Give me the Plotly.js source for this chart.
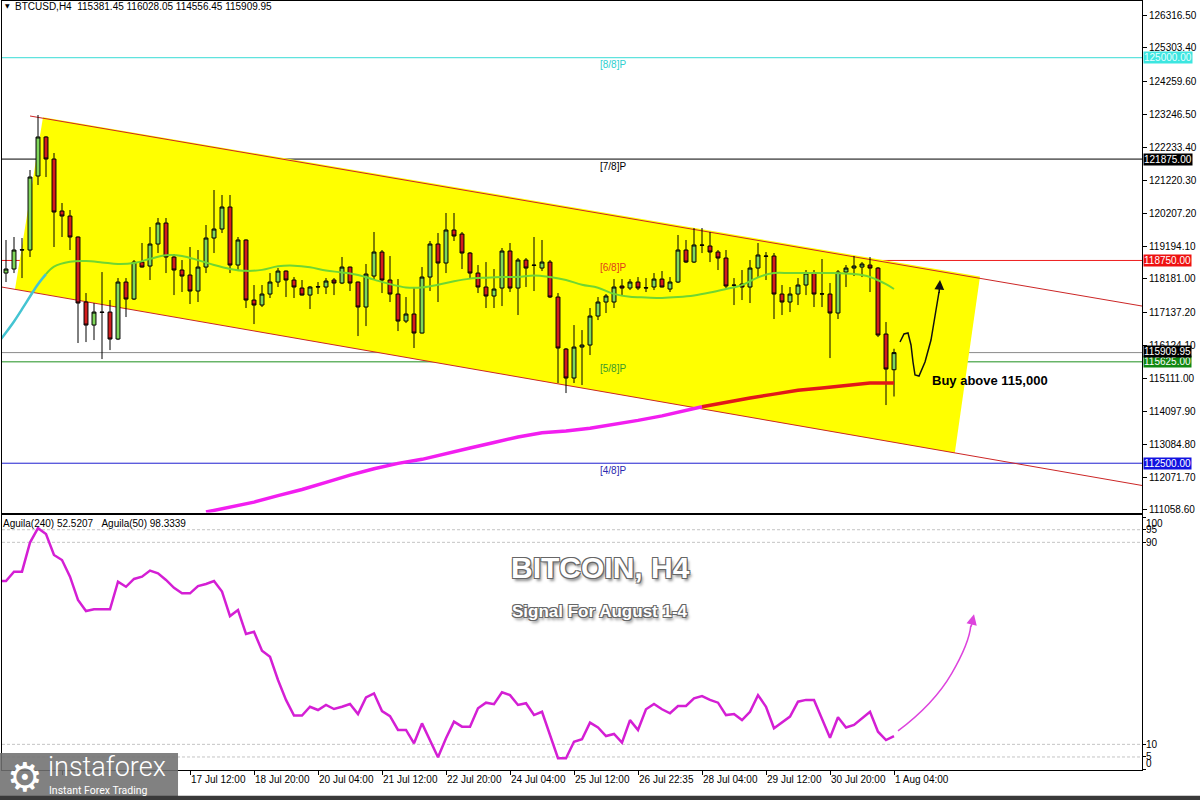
<!DOCTYPE html>
<html><head><meta charset="utf-8">
<script src="https://cdn.plot.ly/plotly-3.0.1.min.js"></script>
<style>html,body{margin:0;padding:0;background:#fff}#chart{width:1200px;height:800px}</style>
</head><body><div id="chart"></div>
<script>
// ---------- DATA (BTCUSD H4) ----------
const openP = [118362,118486,119072,119072,121353,122556,121877,120274,120120,119473,
117469,116759,117160,117160,116328,118085,117561,118701,118578,119257,
119904,118856,118455,118301,117808,118547,119442,119719,120398,118609,
119381,117530,117376,117715,118085,118424,118147,117900,117684,117931,
117931,118147,118054,118547,118085,117315,118270,119010,118147,117715,
116882,117099,116513,118239,119257,118671,119689,119565,118979,118362,
117931,117654,117900,119041,117900,118763,118609,118516,118701,117623,
116020,115126,116081,116143,117037,117469,117469,117962,117900,118085,
117900,117931,118177,117869,118085,119072,118701,119227,119196,119010,
118825,117993,118023,117931,118516,118887,118887,117715,117469,117715,
117993,118362,117715,117715,117130,118393,118516,118547,118609,118516,
116482,115381.45];
const highP = [119381,119473,119442,121538,123234,122580,122062,120521,120305,119490,
117746,117438,118393,117530,118208,118208,118763,119288,119781,120059,
120059,118948,118763,119165,119072,119843,120922,120768,120768,119473,
119400,117993,117993,118362,118516,118440,118239,118147,117962,118085,
118208,118208,118856,118560,118100,118640,119627,119072,118887,118177,
117623,117900,118547,119350,119596,120213,120213,119627,119010,118609,
118701,118486,119134,119288,118825,118825,119473,119381,118763,117746,
116051,116759,116605,117284,117623,117715,118177,118177,118177,118239,
118208,118362,118424,118239,119535,119381,119750,119750,119627,119072,
119072,118208,118455,118763,119288,119010,118979,117993,117931,118208,
118455,118455,118794,118054,118455,118609,118887,118701,118856,118547,
116852,116028.05];
const lowP = [118085,118362,118208,118856,121076,121322,119165,119473,119072,116205,
116235,116297,115711,115988,116297,117006,117530,118530,118147,118979,
118362,117684,117777,117407,117469,118362,118979,119596,118362,118424,
117284,116790,117315,117592,117931,117623,117592,117670,117253,117715,
117715,117684,118023,117808,116420,116728,118147,117746,117469,116574,
116821,116051,116500,117808,117469,118362,119350,118486,118177,117746,
117284,117284,117345,117777,117068,117931,117808,118424,117592,114972,
114663,114972,114910,115835,116913,117130,117284,117684,117838,117838,
117777,117838,117920,117777,118054,118671,118671,118979,118701,118455,
117900,117376,117530,117438,118208,118147,116945,117068,117160,117376,
117684,117315,117315,115742,116945,117931,118270,118239,117777,116389,
114293,114556.45];
const closeP = [118486,119072,119080,121322,122556,121877,120243,120120,119473,117438,
116759,117160,117150,116328,118085,117561,118701,118547,119257,119904,
118856,118455,118270,117808,118547,119442,119719,120398,118609,119381,
117530,117376,117715,118085,118424,118147,117931,117684,117931,117940,
118116,118054,118547,118054,117315,118331,119010,118147,117715,116882,
117099,116513,118239,119257,118671,119689,119504,118979,118362,117931,
117654,117869,119041,117900,118763,118516,118600,118701,117623,116051,
115126,116081,116143,117037,117469,117654,117931,117900,118085,117900,
117910,118177,117931,118085,119072,118701,119227,119220,119010,118825,
117962,117985,117931,118516,118918,118880,117715,117469,117715,117993,
118362,117715,117720,117130,118393,118516,118578,118640,118516,116451,
115403,115909.95];

// Aguila(50) – first segment drawn cyan, rest green (bar index, price)
const maFastCyanIdx = [-1, 0, 1, 2, 3, 4, 5];
const maFastCyanVal = [116210, 116530, 116870, 117250, 117640, 118020, 118330];
const maFastIdx = [5,6,8,10,12,14,16,18,20,22,24,26,28,30,32,34,36,38,40,42,44,46,48,50,52,54,56,58,60,62,64,66,68,70,72,74,76,78,80,82,84,86,88,90,92,94,96,98,100,103,106,108,110,111];
const maFastVal = [118330,118560,118710,118730,118690,118640,118670,118800,118910,118890,118760,118610,118490,118430,118460,118570,118590,118540,118440,118380,118300,118160,118020,117920,117920,118000,118110,118190,118220,118240,118240,118290,118240,118150,118000,117910,117720,117630,117610,117595,117620,117670,117760,117870,117990,118230,118362,118362,118362,118362,118330,118240,118020,117870];
// Aguila(240) – magenta, then red
const maSlowIdx = [25,28,31,34,37,40,43,46,49,52,55,58,61,64,67,70,73,76,79,82,85,87];
const maSlowVal = [110995,111150,111300,111500,111690,111910,112135,112330,112495,112620,112780,112967,113140,113310,113440,113490,113580,113690,113820,113960,114130,114240];
const maSlowRedIdx = [87,90,93,96,99,102,105,108,111];
const maSlowRedVal = [114240,114380,114510,114630,114750,114820,114900,114971,114975];

// Lower oscillator, starting at bar index -1
const aguilaStart = -1;
const aguila = [74.7,
74.7,78.4,78.4,89.9,95.6,93.3,85.0,83.0,76.4,67.2,
62.8,63.5,63.5,63.5,74.4,72.4,75.5,76.4,78.8,77.7,
75.1,72.0,69.8,69.8,72.7,73.5,74.7,70.5,60.8,63.2,
53.7,54.6,47.1,44.7,35.5,27.6,21.4,21.4,24.9,23.6,
25.6,24.0,24.9,26.0,22.0,28.6,30.2,23.2,21.2,15.7,
15.7,10.4,18.3,11.7,4.9,12.4,19.0,17.0,17.0,24.3,
26.5,25.9,30.6,29.5,25.6,26.3,21.6,22.9,13.7,4.5,
4.5,11.0,12.0,18.6,16.7,13.3,14.1,10.7,19.6,15.7,
23.9,26.0,23.9,22.3,25.2,25.2,28.2,29.1,27.6,26.5,
21.6,22.0,19.6,22.9,29.5,24.9,16.4,18.6,21.0,26.9,
27.6,27.6,20.3,12.6,20.7,16.7,17.7,20.3,22.9,15.0,
11.7,13.3];

// Axis ticks (the two leftmost time labels are hidden under the logo in the reference)
const priceTicks = [126316.50,125303.40,124259.60,123246.50,122233.40,121220.30,120207.20,119194.10,118181.00,117137.20,116124.10,115111.00,114097.90,113084.80,112071.70,111058.60];
const oscTicks = [100, 95, 90, 10, 5, 0];
const oscLabelNudge = [-6, 0, 0, 0, 0, 6];
const oscGrid = [95, 90, 10, 5];
const timeTickIdx = [7,15,23,31,39,47,55,63,71,79,87,95,103,111];
const timeTickText = ['','','17 Jul 12:00','18 Jul 20:00','20 Jul 04:00','21 Jul 12:00','22 Jul 20:00','24 Jul 04:00','25 Jul 12:00','26 Jul 22:35','28 Jul 04:00','29 Jul 12:00','30 Jul 20:00','1 Aug 04:00'];

// Murrey levels
const levelPrices = [125000, 121875, 118750, 115625, 112500];
const levelNames = ['[8/8]P', '[7/8]P', '[6/8]P', '[5/8]P', '[4/8]P'];
const levelLineColors = ['#38dcd6', '#000000', '#ee1c1c', '#1e8f1e', '#1f1fd0'];
const levelTextColors = ['#2fcfcf', '#000000', '#e0401a', '#3c9a2a', '#2a2ab0'];
const levelBoxColors = ['#3ce6e0', '#000000', '#ee1111', '#118811', '#1212e0'];
const levelBoxText = ['#e6ffff', '#ffffff', '#ffffff', '#ffffff', '#ffffff'];
const currentPrice = 115909.95;
const ohlcHeader = 'BTCUSD,H4\u00a0\u00a0115381.45 116028.05 114556.45 115909.95';
const oscHeader = 'Aguila(240) 52.5207\u00a0\u00a0\u00a0Aguila(50) 98.3339';

// ---------- DRAWING ----------
const barIdx = openP.map((_, k) => k);
const aguilaIdx = aguila.map((_, k) => k + aguilaStart);
const FONT = 'Liberation Sans, Arial, sans-serif';

const traces = [
  {type: 'candlestick', x: barIdx, open: openP, high: highP, low: lowP, close: closeP,
   xaxis: 'x', yaxis: 'y', whiskerwidth: 0, showlegend: false, hoverinfo: 'skip',
   increasing: {line: {color: '#000', width: 1}, fillcolor: '#7fd65a'},
   decreasing: {line: {color: '#000', width: 1}, fillcolor: '#d21d1d'}},
  {type: 'scatter', mode: 'lines', x: maFastCyanIdx, y: maFastCyanVal, xaxis: 'x', yaxis: 'y',
   line: {color: '#44c4d2', width: 2.5, shape: 'spline'}, showlegend: false, hoverinfo: 'skip'},
  {type: 'scatter', mode: 'lines', x: maFastIdx, y: maFastVal, xaxis: 'x', yaxis: 'y',
   line: {color: '#6fd632', width: 2, shape: 'spline'}, showlegend: false, hoverinfo: 'skip'},
  {type: 'scatter', mode: 'lines', x: maSlowIdx, y: maSlowVal, xaxis: 'x', yaxis: 'y',
   line: {color: '#f21ef0', width: 3.5}, showlegend: false, hoverinfo: 'skip'},
  {type: 'scatter', mode: 'lines', x: maSlowRedIdx, y: maSlowRedVal, xaxis: 'x', yaxis: 'y',
   line: {color: '#e21818', width: 3.5}, showlegend: false, hoverinfo: 'skip'},
  {type: 'scatter', mode: 'lines', x: aguilaIdx, y: aguila, xaxis: 'x2', yaxis: 'y2',
   line: {color: '#d41fd4', width: 2.5}, showlegend: false, hoverinfo: 'skip'}
];

const shapes = [];
// yellow channel
shapes.push({type: 'path', xref: 'x', yref: 'y', layer: 'below',
  path: 'M 4.625,123166 L 121.75,118254 L 118.6,112816 L 1.125,117860 Z',
  fillcolor: '#ffff00', line: {width: 0}});
// channel borders
shapes.push({type: 'line', xref: 'x', yref: 'y', layer: 'below', x0: 3, y0: 123203, x1: 142, y1: 117345,
  line: {color: '#cc2626', width: 1}});
shapes.push({type: 'line', xref: 'x', yref: 'y', layer: 'below', x0: -0.75, y0: 117940, x1: 142, y1: 111814,
  line: {color: '#cc2626', width: 1}});
// horizontal levels
levelPrices.forEach((p, k) => shapes.push({type: 'line', xref: 'paper', yref: 'y', layer: 'below',
  x0: 0, x1: 1, y0: p, y1: p, line: {color: levelLineColors[k], width: 1}}));
shapes.push({type: 'line', xref: 'paper', yref: 'y', layer: 'below', x0: 0, x1: 1,
  y0: currentPrice, y1: currentPrice, line: {color: '#8a8a8a', width: 1}});
// oscillator dashed levels
oscGrid.forEach(v => shapes.push({type: 'line', xref: 'paper', yref: 'y2', layer: 'below',
  x0: 0, x1: 1, y0: v, y1: v, line: {color: '#c4c4c4', width: 1, dash: '3px,2px'}}));
// black forecast curve
shapes.push({type: 'path', xref: 'x', yref: 'y', layer: 'above',
  path: 'M 111.75,116236 L 112.25,116483 L 112.75,116514 L 113.125,116144 L 113.375,115620 L 113.625,115219 L 114.125,115188 L 114.875,115620 L 115.625,116298 L 116.25,117223 L 116.625,117778',
  line: {color: '#111', width: 1.5}});
// magenta forecast curve (oscillator)
shapes.push({type: 'path', xref: 'x', yref: 'y2', layer: 'above',
  path: 'M 111.5,15.3 Q 116,26 118.2,38 T 120.6,57',
  line: {color: '#dd44dd', width: 1.5}});
// logo box
shapes.push({type: 'rect', xref: 'paper', yref: 'paper', layer: 'above',
  x0: -0.002, x1: 0.1544, y0: -0.04, y1: 0.0221, fillcolor: 'rgba(112,112,112,0.88)', line: {width: 0}});
// frame bottom band
shapes.push({type: 'rect', xref: 'paper', yref: 'paper', layer: 'above',
  x0: -0.01, x1: 1.06, y0: -0.045, y1: -0.0335, fillcolor: '#3a3a3a', line: {width: 0}});

const annotations = [];
annotations.push({xref: 'paper', yref: 'paper', x: 0.0096, y: 0.9922, xanchor: 'left', yanchor: 'middle',
  text: ohlcHeader, showarrow: false, font: {family: FONT, size: 10, color: '#000'}});
annotations.push({xref: 'paper', yref: 'paper', x: 0.0005, y: 0.9935, xanchor: 'left', yanchor: 'middle',
  text: '\u25BC', showarrow: false, font: {family: 'DejaVu Sans', size: 6, color: '#000'}});
annotations.push({xref: 'paper', yref: 'paper', x: -0.001, y: 0.3199, xanchor: 'left', yanchor: 'middle',
  text: oscHeader, showarrow: false, font: {family: FONT, size: 10, color: '#000'}});
// oscillator scale labels (inset at the ends, as the terminal draws them)
oscTicks.forEach((v, k) => annotations.push({xref: 'paper', yref: 'y2', x: 1, xshift: 2, y: v,
  yshift: oscLabelNudge[k], xanchor: 'left', yanchor: 'middle', text: String(v), showarrow: false,
  font: {family: FONT, size: 10, color: '#000'}}));
levelPrices.forEach((p, k) => {
  annotations.push({xref: 'x', yref: 'y', x: 74, y: p, yshift: -7, xanchor: 'left', yanchor: 'middle',
    text: levelNames[k], showarrow: false, font: {family: FONT, size: 10, color: levelTextColors[k]}});
  annotations.push({xref: 'paper', yref: 'y', x: 1, xshift: 1, y: p, xanchor: 'left', yanchor: 'middle',
    text: p.toFixed(2), showarrow: false, bgcolor: levelBoxColors[k], borderpad: 0,
    font: {family: FONT, size: 10, color: levelBoxText[k]}});
});
annotations.push({xref: 'paper', yref: 'y', x: 1, xshift: 1, y: currentPrice, yshift: 1, xanchor: 'left', yanchor: 'middle',
  text: currentPrice.toFixed(2), showarrow: false, bgcolor: '#000', borderpad: 0,
  font: {family: FONT, size: 10, color: '#fff'}});
// forecast arrowheads
annotations.push({xref: 'x', yref: 'y', axref: 'x', ayref: 'y', x: 116.75, y: 118150, ax: 116.62, ay: 117700,
  showarrow: true, arrowhead: 2, arrowsize: 1.3, arrowwidth: 1.5, arrowcolor: '#111', text: ''});
annotations.push({xref: 'x', yref: 'y2', axref: 'x', ayref: 'y2', x: 121.0, y: 61.5, ax: 120.6, ay: 56,
  showarrow: true, arrowhead: 2, arrowsize: 1.4, arrowwidth: 1.5, arrowcolor: '#dd44dd', text: ''});
annotations.push({xref: 'x', yref: 'y', x: 115.5, y: 115065, xanchor: 'left', yanchor: 'middle',
  text: '<b>Buy above 115,000</b>', showarrow: false, font: {family: FONT, size: 13, color: '#000'}});
// titles in oscillator window
const outline = '-1px -1px 0 #666, 1px -1px 0 #666, -1px 1px 0 #666, 1px 1px 0 #666, 2px 3px 3px rgba(0,0,0,0.45)';
annotations.push({xref: 'x', yref: 'y2', x: 74.25, y: 80.2, xanchor: 'center', yanchor: 'middle',
  text: 'BITCOIN, H4', showarrow: false,
  font: {family: FONT, size: 30, weight: 'bold', color: '#ffffff', shadow: outline}});
annotations.push({xref: 'x', yref: 'y2', x: 74.25, y: 62.8, xanchor: 'center', yanchor: 'middle',
  text: 'Signal For August 1-4', showarrow: false,
  font: {family: FONT, size: 17, weight: 'bold', color: '#ffffff', shadow: outline}});
// logo
annotations.push({xref: 'paper', yref: 'paper', x: 0.0202, y: -0.0085, xanchor: 'center', yanchor: 'middle',
  text: '\u2699', showarrow: false, font: {family: 'DejaVu Sans', size: 40, color: '#ffffff'}});
annotations.push({xref: 'paper', yref: 'paper', x: 0.0385, y: 0.004, xanchor: 'left', yanchor: 'middle',
  text: 'instaforex', showarrow: false, font: {family: 'Roboto, Lato, sans-serif', size: 27, weight: 300, color: '#ffffff'}});
annotations.push({xref: 'paper', yref: 'paper', x: 0.0395, y: -0.0262, xanchor: 'left', yanchor: 'middle',
  text: 'Instant Forex Trading', showarrow: false, font: {family: 'Roboto, Lato, sans-serif', size: 10.5, color: '#ffffff'}});

const axisCommon = {showgrid: false, zeroline: false, showline: true, mirror: true, linecolor: '#000', linewidth: 1};
const layout = {
  width: 1200, height: 800,
  margin: {l: 2, r: 58, t: 1, b: 30},
  paper_bgcolor: '#ffffff', plot_bgcolor: '#ffffff',
  showlegend: false,
  xaxis: Object.assign({}, axisCommon, {domain: [0, 1], anchor: 'y', range: [-0.5, 142],
    showticklabels: false, ticks: '', rangeslider: {visible: false}}),
  xaxis2: Object.assign({}, axisCommon, {domain: [0, 1], anchor: 'y2', matches: 'x', range: [-0.5, 142],
    tickmode: 'array', tickvals: timeTickIdx, ticktext: timeTickText, ticks: 'outside', ticklen: 4,
    tickcolor: '#000', ticklabelposition: 'outside right', tickfont: {family: FONT, size: 10, color: '#000'},
    rangeslider: {visible: false}}),
  yaxis: Object.assign({}, axisCommon, {domain: [0.33485, 1], anchor: 'x', side: 'right',
    range: [110981, 126748], tickmode: 'array', tickvals: priceTicks,
    ticktext: priceTicks.map(v => v.toFixed(2)), ticks: 'outside', ticklen: 4, tickcolor: '#000',
    tickfont: {family: FONT, size: 10, color: '#000'}}),
  yaxis2: Object.assign({}, axisCommon, {domain: [0, 0.33095], anchor: 'x2', side: 'right',
    range: [-0.16, 100.63], tickmode: 'array', tickvals: oscTicks, showticklabels: false,
    ticks: 'outside', ticklen: 3, tickcolor: '#000'}),
  shapes: shapes,
  annotations: annotations
};

Plotly.newPlot('chart', traces, layout, {staticPlot: true, displayModeBar: false});
</script>
</body></html>
